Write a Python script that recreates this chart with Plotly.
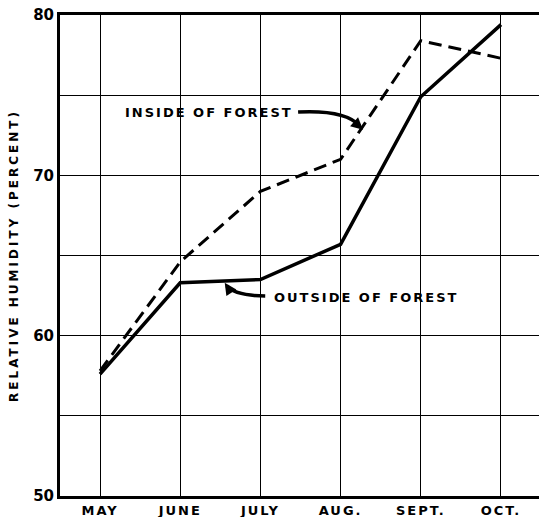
import plotly.graph_objects as go

# Monthly mean relative humidity (percent)
months = ["MAY", "JUNE", "JULY", "AUG.", "SEPT.", "OCT."]
inside_forest = [57.8, 64.6, 69.0, 71.0, 78.4, 77.3]
outside_forest = [57.6, 63.3, 63.5, 65.7, 74.9, 79.4]
y_ticks = [50, 55, 60, 65, 70, 75, 80]
y_tick_text = ["50", "", "60", "", "70", "", "80"]

x_pos = list(range(len(months)))
FONT = "DejaVu Sans"


def spaced(text, px):
    """Wrap text in a span with extra letter spacing."""
    return f"<span style='letter-spacing:{px}px'>{text}</span>"


fig = go.Figure()
fig.add_trace(go.Scatter(
    x=x_pos, y=inside_forest, mode="lines",
    line=dict(color="black", width=3, dash="13px,7px"),
    name="Inside of forest", showlegend=False,
))
fig.add_trace(go.Scatter(
    x=x_pos, y=outside_forest, mode="lines",
    line=dict(color="black", width=3.5),
    name="Outside of forest", showlegend=False,
))

# curved pointer lines from the labels to the curves
fig.add_shape(type="path", xref="x", yref="y",
              path="M 2.47,73.95 Q 3.06,74.1 3.24,73.08",
              line=dict(color="black", width=3.5))
fig.add_shape(type="path", xref="x", yref="y",
              path="M 2.06,62.47 Q 1.68,62.5 1.58,63.1",
              line=dict(color="black", width=3.5))

# arrow heads
fig.add_annotation(x=3.28, y=72.85, xref="x", yref="y", text="",
                   showarrow=True, arrowhead=2, arrowsize=1.2, arrowwidth=2,
                   arrowcolor="black", ax=-9, ay=-8)
fig.add_annotation(x=1.555, y=63.3, xref="x", yref="y", text="",
                   showarrow=True, arrowhead=2, arrowsize=1.2, arrowwidth=2,
                   arrowcolor="black", ax=6, ay=9)

# labels
fig.add_annotation(x=2.43, y=73.95, xref="x", yref="y",
                   text=spaced("INSIDE OF FOREST", 2),
                   showarrow=False, xanchor="right",
                   font=dict(family=FONT, size=13, color="black", weight="bold"))
fig.add_annotation(x=2.15, y=62.4, xref="x", yref="y",
                   text=spaced("OUTSIDE OF FOREST", 2),
                   showarrow=False, xanchor="left",
                   font=dict(family=FONT, size=13, color="black", weight="bold"))

fig.update_xaxes(
    range=[-0.499, 5.474], tickvals=x_pos,
    ticktext=[spaced(m, 2) for m in months],
    showgrid=True, gridcolor="black", gridwidth=1,
    showline=True, linecolor="black", linewidth=3, mirror=True,
    ticks="", zeroline=False,
    tickfont=dict(family=FONT, size=13, color="black", weight="bold"),
)
fig.update_yaxes(
    range=[50, 80], tickvals=y_ticks, ticktext=y_tick_text,
    showgrid=True, gridcolor="black", gridwidth=1,
    showline=True, linecolor="black", linewidth=3, mirror=False,
    ticks="", zeroline=False,
    tickfont=dict(family=FONT, size=15, color="black", weight="bold"),
    title=dict(text=spaced("RELATIVE HUMIDITY (PERCENT)", 3), standoff=12,
               font=dict(family=FONT, size=12, color="black", weight="bold")),
)

fig.update_layout(
    width=539, height=517,
    margin=dict(l=60, r=0, t=15, b=21),
    plot_bgcolor="white", paper_bgcolor="white",
)

fig.write_html("out.html")
